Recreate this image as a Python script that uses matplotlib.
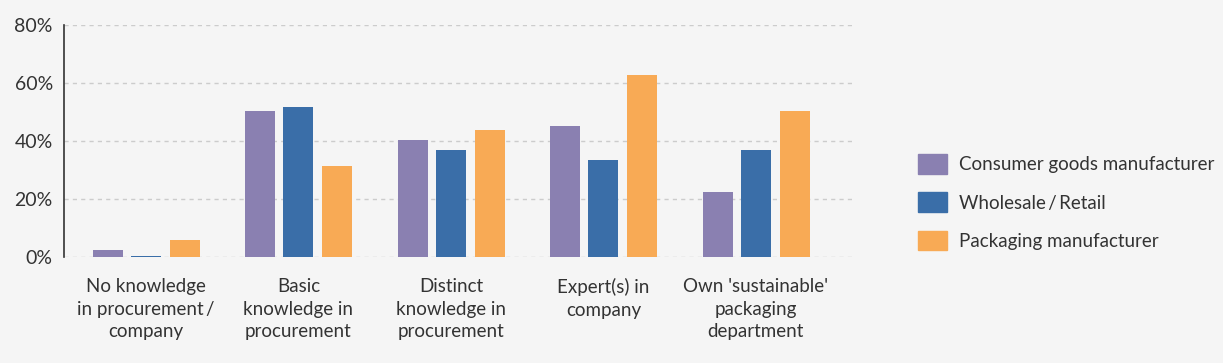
import matplotlib.pyplot as plt
import numpy as np
from matplotlib.patches import Patch
from matplotlib.ticker import PercentFormatter

categories = ["No knowledge\nin procurement\u2009/\ncompany",
              "Basic\nknowledge in\nprocurement",
              "Distinct\nknowledge in\nprocurement",
              "Expert(s) in\ncompany",
              "Own 'sustainable'\npackaging\ndepartment"]
series = ["Consumer goods manufacturer", "Wholesale\u2009/\u2009Retail", "Packaging manufacturer"]
consumer = [2.5, 50.2, 40.3, 45.1, 22.4]
wholesale = [0.5, 51.6, 36.9, 33.4, 36.9]
packaging = [5.9, 31.4, 43.7, 62.6, 50.2]
colors = ["#8a80b1", "#3a6ea8", "#f8aa55"]

plt.rcParams['font.family'] = ['Lato', 'DejaVu Sans']
bg = "#f5f5f5"
txt = "#333333"

fig = plt.figure(figsize=(12.23, 3.63), dpi=100, facecolor=bg)
ax = fig.add_axes([0.0523, 0.291, 0.6443, 0.6415], facecolor=bg)

x = np.arange(len(categories))
offsets = [-0.25, 0, 0.255]
for vals, off, c in zip([consumer, wholesale, packaging], offsets, colors):
    ax.bar(x + off, vals, width=0.197, color=c, zorder=3)

ax.set_xlim(-0.538, 4.63)
ax.set_ylim(0, 80)
ax.set_yticks([0, 20, 40, 60, 80])
ax.yaxis.set_major_formatter(PercentFormatter(decimals=0))
ax.set_xticks(x)
ax.set_xticklabels(categories, fontsize=13.5, color=txt, linespacing=1.4)
ax.tick_params(axis='y', labelsize=14, labelcolor=txt, length=0, pad=8)
ax.tick_params(axis='x', length=0, pad=15)
ax.grid(axis='y', color='#cccccc', linestyle=(0, (3, 3)), linewidth=1, zorder=0)
ax.set_axisbelow(True)
for s in ['top', 'right', 'bottom']:
    ax.spines[s].set_visible(False)
ax.spines['left'].set_color('#333333')
ax.spines['left'].set_linewidth(1.2)

handles = [Patch(facecolor=c, edgecolor=c, label=l) for c, l in zip(colors, series)]
fig.legend(handles=handles, loc='center left', bbox_to_anchor=(0.737, 0.443),
           frameon=False, fontsize=13.5, handlelength=1.55, handleheight=1.22,
           handletextpad=0.6, labelspacing=1.0, labelcolor=txt)

fig.savefig("out.png", dpi=100, facecolor=bg)
